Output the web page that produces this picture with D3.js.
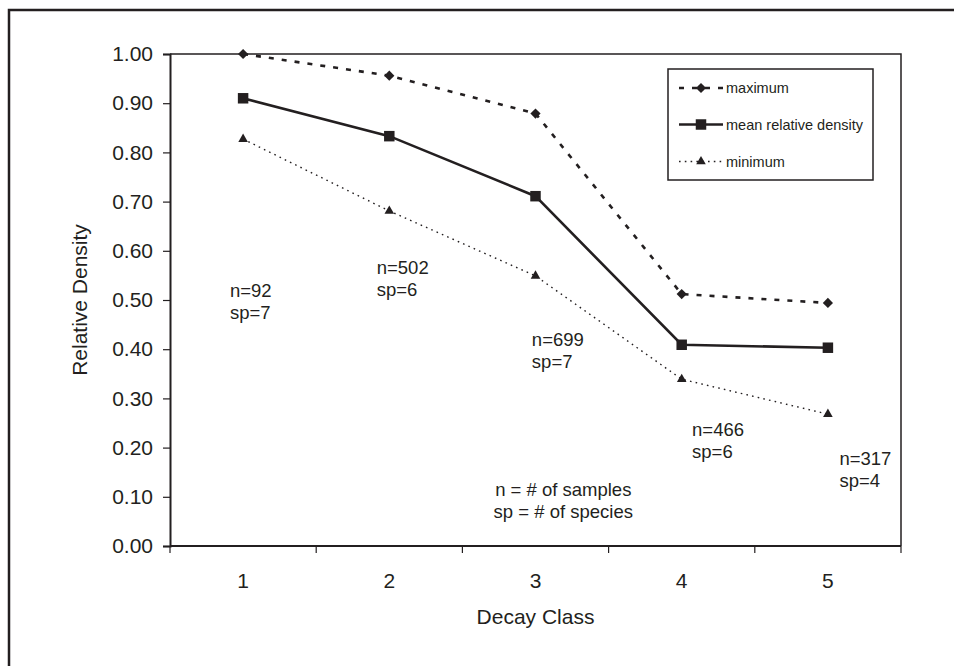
<!DOCTYPE html>
<html>
<head>
<meta charset="utf-8">
<script src="https://cdn.jsdelivr.net/npm/d3@7"></script>
<style>
  body { margin: 0; background: #fff; }
  svg { display: block; font-family: "Liberation Sans", Arial, sans-serif; }
</style>
</head>
<body>
<svg id="chart" width="954" height="666"></svg>
<script>
// decay classes and the three series
const classes = ["1", "2", "3", "4", "5"];
const maximum = [1.0, 0.956, 0.879, 0.512, 0.494];
const meanDensity = [0.910, 0.833, 0.711, 0.409, 0.403];
const minimum = [0.827, 0.681, 0.549, 0.339, 0.268];
const yTicks = [0, 0.1, 0.2, 0.3, 0.4, 0.5, 0.6, 0.7, 0.8, 0.9, 1.0];

// sample notes: position in class units / density units
const noteN = ["n=92", "n=502", "n=699", "n=466", "n=317"];
const noteSp = ["sp=7", "sp=6", "sp=7", "sp=6", "sp=4"];
const noteX = [0.91, 1.914, 2.975, 4.071, 5.079];
const noteY = [0.52, 0.565, 0.419, 0.236, 0.177];

const ink = "#231f20";
const svg = d3.select("#chart");
const margin = { left: 170, right: 53, top: 54, bottom: 120 };
const width = 954 - margin.left - margin.right;
const height = 666 - margin.top - margin.bottom;

// outer frame (cut off at right and bottom like the scan)
svg.append("rect")
  .attr("x", 9).attr("y", 10)
  .attr("width", 1000).attr("height", 700)
  .attr("fill", "none").attr("stroke", ink).attr("stroke-width", 2.5);

const chart = svg.append("g").attr("transform", `translate(${margin.left},${margin.top})`);

const x = d3.scaleBand().domain(classes).range([0, width]);
const y = d3.scaleLinear().domain([0, 1]).range([height, 0]);
// class-unit scale for free text placement
const xc = d3.scaleLinear().domain([1, 5]).range([x("1") + x.bandwidth() / 2, x("5") + x.bandwidth() / 2]);

// plot-area border on top and right
chart.append("path")
  .attr("d", `M0,0H${width}V${height}`)
  .attr("fill", "none").attr("stroke", ink).attr("stroke-width", 1.5);

// y axis
const yAxis = chart.append("g")
  .call(d3.axisLeft(y).tickValues(yTicks).tickFormat(d3.format(".2f")).tickSize(7).tickPadding(10));
yAxis.select(".domain").attr("stroke", ink).attr("stroke-width", 2);
yAxis.selectAll(".tick line").attr("stroke", ink).attr("stroke-width", 1.2);
yAxis.selectAll(".tick text").attr("font-size", 21).attr("fill", ink).attr("font-family", "Liberation Sans, Arial, sans-serif");

// x axis: ticks between categories
const xAxis = chart.append("g").attr("transform", `translate(0,${height})`);
xAxis.append("line").attr("x1", 0).attr("x2", width).attr("stroke", ink).attr("stroke-width", 2);
const bounds = classes.map(c => x(c)).concat([width]);
xAxis.selectAll(".xtick").data(bounds).join("line")
  .attr("x1", d => d).attr("x2", d => d)
  .attr("y1", 0).attr("y2", 7)
  .attr("stroke", ink).attr("stroke-width", 1.2);
xAxis.selectAll(".xlabel").data(classes).join("text")
  .attr("x", d => x(d) + x.bandwidth() / 2)
  .attr("y", 42)
  .attr("text-anchor", "middle")
  .attr("font-size", 21).attr("fill", ink)
  .text(d => d);

// axis titles, centred on the plot area
chart.append("text")
  .attr("x", width / 2).attr("y", height + 78)
  .attr("text-anchor", "middle").attr("font-size", 21).attr("fill", ink)
  .text("Decay Class");
svg.append("text")
  .attr("transform", `translate(80,${margin.top + height / 2}) rotate(-90)`)
  .attr("dy", "0.35em")
  .attr("text-anchor", "middle").attr("font-size", 21).attr("fill", ink)
  .text("Relative Density");

// series
const series = [
  { name: "maximum", values: maximum, dash: "5,8", width: 2.6, symbol: d3.symbolSquare, size: 52, rot: 45 },
  { name: "mean relative density", values: meanDensity, dash: null, width: 2.6, symbol: d3.symbolSquare, size: 110, rot: 0 },
  { name: "minimum", values: minimum, dash: "1.6,4.2", width: 1.4, symbol: d3.symbolTriangle, size: 40, rot: 0 },
];

const line = d3.line()
  .x((d, i) => x(classes[i]) + x.bandwidth() / 2)
  .y(d => y(d));

series.forEach(s => {
  chart.append("path")
    .datum(s.values)
    .attr("d", line)
    .attr("fill", "none")
    .attr("stroke", ink)
    .attr("stroke-width", s.width)
    .attr("stroke-dasharray", s.dash);
  chart.selectAll(null).data(s.values).join("path")
    .attr("d", d3.symbol(s.symbol, s.size))
    .attr("transform", (d, i) => `translate(${x(classes[i]) + x.bandwidth() / 2},${y(d)}) rotate(${s.rot})`)
    .attr("fill", ink);
});

// sample annotations
noteN.forEach((t, i) => {
  const g = chart.append("text")
    .attr("x", xc(noteX[i])).attr("y", y(noteY[i]))
    .attr("font-size", 18.5).attr("fill", ink);
  g.append("tspan").attr("x", xc(noteX[i])).attr("dy", "0.35em").text(t);
  g.append("tspan").attr("x", xc(noteX[i])).attr("dy", 22).text(noteSp[i]);
});

const foot = chart.append("text")
  .attr("text-anchor", "middle").attr("font-size", 18.5).attr("fill", ink);
foot.append("tspan").attr("x", xc(3.19)).attr("y", y(0.114)).attr("dy", "0.35em").text("n = # of samples");
foot.append("tspan").attr("x", xc(3.19)).attr("dy", 22).text("sp = # of species");

// legend
const legend = svg.append("g").attr("transform", "translate(668,69)");
legend.append("rect")
  .attr("width", 205).attr("height", 111)
  .attr("fill", "#fff").attr("stroke", ink).attr("stroke-width", 1.5);
const rowY = [19, 55.5, 92.5];
series.forEach((s, i) => {
  const r = legend.append("g").attr("transform", `translate(0,${rowY[i]})`);
  r.append("line")
    .attr("x1", 11).attr("x2", 55)
    .attr("stroke", ink).attr("stroke-width", s.width)
    .attr("stroke-dasharray", s.dash);
  r.append("path")
    .attr("d", d3.symbol(s.symbol, s.size))
    .attr("transform", `translate(33,0) rotate(${s.rot})`)
    .attr("fill", ink);
  r.append("text")
    .attr("x", 58).attr("dy", "0.35em")
    .attr("font-size", 14.5).attr("fill", ink)
    .text(s.name);
});
</script>
</body>
</html>
